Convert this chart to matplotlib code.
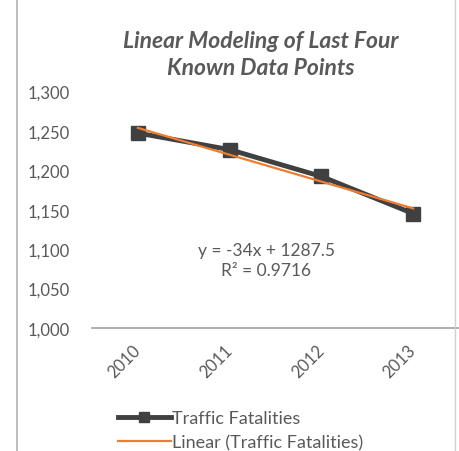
import numpy as np
import matplotlib
matplotlib.use('Agg')
import matplotlib.pyplot as plt
import matplotlib.transforms as mtransforms
from matplotlib.lines import Line2D

# --- data ---
years = ['2010', '2011', '2012', '2013']
fatalities = [1247, 1226, 1192, 1145]
y_ticks = [1000, 1050, 1100, 1150, 1200, 1250, 1300]

plt.rcParams['font.family'] = ['Lato', 'DejaVu Sans']
grey_text = '#595959'

fig = plt.figure(figsize=(4.6, 4.52), dpi=100)
ax = fig.add_axes([0.2, 0.272, 0.798, 0.524])

x = np.arange(len(years))
ax.plot(x, fatalities, color='#404040', linewidth=3.5, marker='s',
        markersize=10, markerfacecolor='#404040', markeredgecolor='#404040',
        zorder=2, label='Traffic Fatalities')

# linear trendline (Excel uses x = 1..n)
xs = np.arange(1, len(years) + 1)
slope, intercept = np.polyfit(xs, fatalities, 1)
fit = slope * xs + intercept
r2 = 1 - np.sum((np.array(fatalities) - fit) ** 2) / np.sum((np.array(fatalities) - np.mean(fatalities)) ** 2)
ax.plot(x, fit, color='#ED7D31', linewidth=1.6, zorder=3,
        label='Linear (Traffic Fatalities)')

ax.text(1.4, 1086, f'y = {slope:.0f}x + {intercept:.1f}\nR² = {r2:.4f}',
        ha='center', va='center', fontsize=12.5, color=grey_text, linespacing=1.3)

ax.set_xlim(-0.5, 3.5)
ax.set_ylim(1000, 1300)
ax.set_xticks(x)
ax.set_xticklabels(years, fontsize=12, color=grey_text)
shift = mtransforms.ScaledTranslation(4 / 100, 0, fig.dpi_scale_trans)
for lbl in ax.get_xticklabels():
    lbl.set_rotation(45)
    lbl.set_rotation_mode('anchor')
    lbl.set_ha('right')
    lbl.set_va('center')
    lbl.set_transform(lbl.get_transform() + shift)
ax.set_yticks(y_ticks)
ax.set_yticklabels([f'{v:,}' for v in y_ticks], fontsize=12, color=grey_text)
ax.tick_params(length=0)
ax.tick_params(axis='x', pad=14)
ax.tick_params(axis='y', pad=16)
for s in ['top', 'right', 'left']:
    ax.spines[s].set_visible(False)
ax.spines['bottom'].set_color('#A0A0A0')
ax.spines['bottom'].set_linewidth(1.2)

fig.text(0.566, 0.878, 'Linear Modeling of Last Four\nKnown Data Points',
         ha='center', va='center', fontsize=16.5, fontweight='bold',
         style='italic', color=grey_text, linespacing=1.32)

handles = [Line2D([0], [0], color='#404040', linewidth=3.5, marker='s', markersize=7),
           Line2D([0], [0], color='#ED7D31', linewidth=1.6)]
fig.legend(handles, ['Traffic Fatalities', 'Linear (Traffic Fatalities)'],
           loc='upper left', bbox_to_anchor=(0.257, 0.09), frameon=False,
           fontsize=13, labelcolor=grey_text, handlelength=2.9,
           handletextpad=0.1, labelspacing=0.45, borderaxespad=0, borderpad=0)

# chart border lines
fig.add_artist(Line2D([17 / 460, 17 / 460], [0, 1], color='#B0B0B0', linewidth=1.2))
fig.add_artist(Line2D([455 / 460, 455 / 460], [0, 1], color='#D0D0D0', linewidth=1.0))

fig.savefig('out.png', dpi=100)
